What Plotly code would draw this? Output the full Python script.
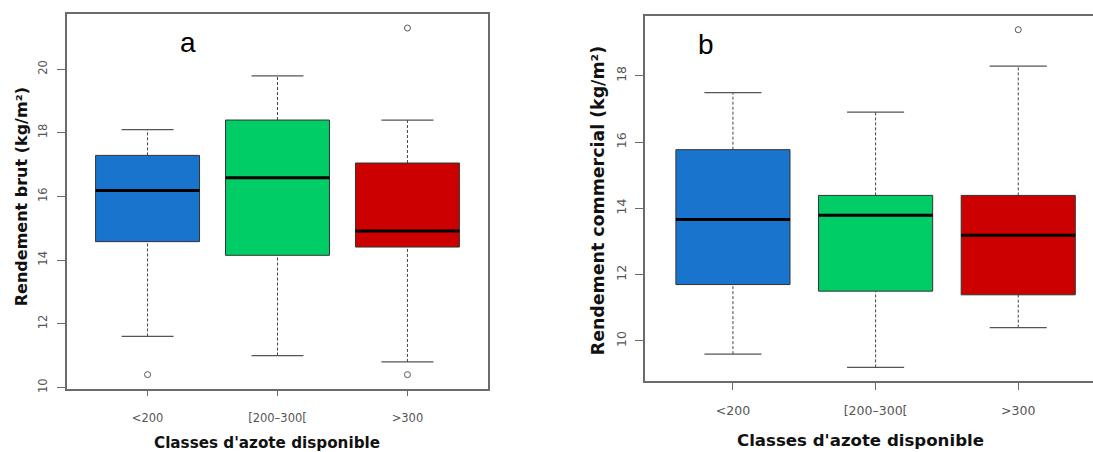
import plotly.graph_objects as go

W, H = 1093, 452

categories = ["<200", "[200–300[", ">300"]
colors = ["#1874CD", "#00CD66", "#CD0000"]

# Panel a: Rendement brut
a_lower = [11.60, 11.00, 10.80]
a_q1 = [14.58, 14.15, 14.41]
a_median = [16.19, 16.59, 14.91]
a_q3 = [17.29, 18.40, 17.05]
a_upper = [18.10, 19.79, 18.40]
a_out_x = ["<200", ">300", ">300"]
a_out_y = [10.40, 21.29, 10.40]

# Panel b: Rendement commercial
b_lower = [9.60, 9.20, 10.40]
b_q1 = [11.70, 11.50, 11.39]
b_median = [13.66, 13.79, 13.19]
b_q3 = [15.77, 14.39, 14.39]
b_upper = [17.49, 16.90, 18.29]
b_out_x = [">300"]
b_out_y = [19.39]

BOX_HALF = 0.4
STAPLE_HALF = 0.2

fig = go.Figure()


def add_panel(lower, q1, med, q3, upper, out_x, out_y, xa, ya):
    for i, cat in enumerate(categories):
        p = i + 1
        # whiskers (dashed)
        for y0, y1 in ((lower[i], q1[i]), (q3[i], upper[i])):
            fig.add_trace(go.Scatter(x=[p, p], y=[y0, y1], mode="lines",
                                     line=dict(color="#444444", width=1, dash="3px,2px"),
                                     xaxis=xa, yaxis=ya, showlegend=False, hoverinfo="skip"))
        # staples
        for yv in (lower[i], upper[i]):
            fig.add_trace(go.Scatter(x=[p - STAPLE_HALF, p + STAPLE_HALF], y=[yv, yv], mode="lines",
                                     line=dict(color="#555555", width=1.3),
                                     xaxis=xa, yaxis=ya, showlegend=False, hoverinfo="skip"))
        # box
        fig.add_trace(go.Scatter(
            x=[p - BOX_HALF, p + BOX_HALF, p + BOX_HALF, p - BOX_HALF, p - BOX_HALF],
            y=[q1[i], q1[i], q3[i], q3[i], q1[i]],
            mode="lines", fill="toself", fillcolor=colors[i],
            line=dict(color="#333333", width=1),
            xaxis=xa, yaxis=ya, showlegend=False, name=cat))
        # median
        fig.add_trace(go.Scatter(x=[p - BOX_HALF, p + BOX_HALF], y=[med[i], med[i]], mode="lines",
                                 line=dict(color="black", width=3),
                                 xaxis=xa, yaxis=ya, showlegend=False, hoverinfo="skip"))
    # outliers
    fig.add_trace(go.Scatter(x=[categories.index(c) + 1 for c in out_x], y=out_y, mode="markers",
                             marker=dict(symbol="circle-open", size=6, color="#555555", line=dict(width=1)),
                             xaxis=xa, yaxis=ya, showlegend=False))


add_panel(a_lower, a_q1, a_median, a_q3, a_upper, a_out_x, a_out_y, "x", "y")
add_panel(b_lower, b_q1, b_median, b_q3, b_upper, b_out_x, b_out_y, "x2", "y2")


def axis_style(size, standoff, ticklen=7):
    return dict(showgrid=False, zeroline=False, showline=True, linecolor="#6b6b6b", linewidth=1.5,
                ticks="outside", ticklen=ticklen, tickcolor="#6b6b6b", tickwidth=1.2,
                tickfont=dict(family="DejaVu Sans", size=size, color="#555555"),
                ticklabelstandoff=standoff)


fig.update_layout(
    width=W, height=H, margin=dict(l=0, r=0, t=0, b=0),
    paper_bgcolor="white", plot_bgcolor="white",
    xaxis=dict(domain=[67 / W, 488 / W], range=[0.38, 3.62], tickvals=[1, 2, 3], ticktext=categories,
               mirror=True, anchor="y", **axis_style(11.5, 12, 6)),
    yaxis=dict(domain=[1 - 392 / H, 1 - 14 / H], range=[9.964, 21.736], tickvals=[10, 12, 14, 16, 18, 20],
               tickangle=-90, mirror=True, anchor="x", **axis_style(11.5, 6, 8)),
    xaxis2=dict(domain=[644.5 / W, 1.0], range=[0.38, 3.524], tickvals=[1, 2, 3], ticktext=categories,
                mirror=True, anchor="y2", **axis_style(12.5, 10, 7)),
    yaxis2=dict(domain=[1 - 384.3 / H, 1 - 16 / H], range=[8.792, 19.808], tickvals=[10, 12, 14, 16, 18],
                tickangle=-90, mirror=False, anchor="x2", **axis_style(12.5, 4, 8)),
    annotations=[
        dict(text="a", x=188 / W, y=1 - 43 / H, xref="paper", yref="paper", showarrow=False,
             font=dict(family="Liberation Sans", size=28, color="black"), xanchor="center", yanchor="middle"),
        dict(text="b", x=705.5 / W, y=1 - 45 / H, xref="paper", yref="paper", showarrow=False,
             font=dict(family="Liberation Sans", size=28, color="black"), xanchor="center", yanchor="middle"),
        dict(text="<b>Rendement brut (kg/m²)</b>", x=21 / W, y=1 - 199 / H, xref="paper", yref="paper",
             showarrow=False, textangle=-90, font=dict(family="DejaVu Sans", size=16, color="#111111"),
             xanchor="center", yanchor="middle"),
        dict(text="<b>Rendement commercial (kg/m²)</b>", x=598 / W, y=1 - 203 / H, xref="paper", yref="paper",
             showarrow=False, textangle=-90, font=dict(family="DejaVu Sans", size=17.4, color="#111111"),
             xanchor="center", yanchor="middle"),
        dict(text="<b>Classes d'azote disponible</b>", x=267 / W, y=1 - 447 / H, xref="paper", yref="paper",
             showarrow=False, font=dict(family="DejaVu Sans", size=15.2, color="#111111"),
             xanchor="center", yanchor="middle"),
        dict(text="<b>Classes d'azote disponible</b>", x=860.5 / W, y=1 - 444 / H, xref="paper", yref="paper",
             showarrow=False, font=dict(family="DejaVu Sans", size=16.6, color="#111111"),
             xanchor="center", yanchor="middle"),
    ],
)

fig.write_html("out.html", config={"displayModeBar": False},
               post_script="document.body.style.margin='0';document.body.style.overflow='hidden';")
